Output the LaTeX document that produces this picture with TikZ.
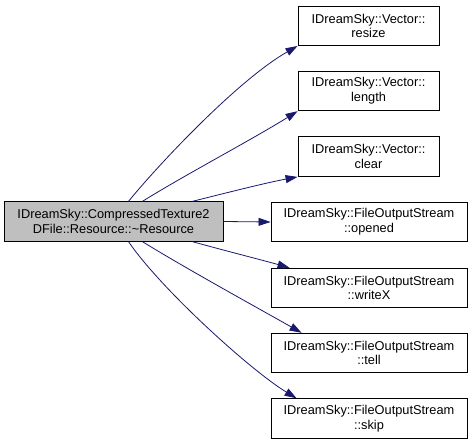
\documentclass[tikz,border=0pt]{standalone}
\usepackage{fontspec}
\setmainfont{Liberation Sans}
\usetikzlibrary{arrows.meta,calc}
\definecolor{edgeblue}{RGB}{25,25,112}
\definecolor{boxgray}{RGB}{191,191,191}
\begin{document}
\begin{tikzpicture}[x=1pt,y=-1pt,
  box/.style={draw=black,line width=0.9pt,fill=white,align=center,inner sep=0pt,
    font=\fontsize{12.8}{14.7}\selectfont,minimum height=39.5pt},
  vbox/.style={box,minimum width=141pt},
  fbox/.style={box,minimum width=196pt},
  edge/.style={draw=edgeblue,line width=0.8pt,-{Triangle[length=12pt,width=8pt]}}]
\useasboundingbox (0,0) rectangle (472,444);
\node[box,fill=boxgray,minimum width=219pt] (main) at (113.5,221.5) {IDreamSky::CompressedTexture2\\DFile::Resource::\textasciitilde Resource};
\node[vbox] (resize) at (368.5,25.8) {IDreamSky::Vector::\\resize};
\node[vbox] (length) at (368.5,91) {IDreamSky::Vector::\\length};
\node[vbox] (clear) at (368.5,156.7) {IDreamSky::Vector::\\clear};
\node[fbox] (opened) at (369,222) {IDreamSky::FileOutputStream\\::opened};
\node[fbox] (writeX) at (369,288) {IDreamSky::FileOutputStream\\::writeX};
\node[fbox] (tell) at (369,353) {IDreamSky::FileOutputStream\\::tell};
\node[fbox] (skip) at (369,418.5) {IDreamSky::FileOutputStream\\::skip};
\draw[edge] ([xshift=125pt]main.north west) .. controls (159,164) and (238,80) .. (resize.south west);
\draw[edge] ([xshift=139pt]main.north west) .. controls (183,176) and (253,139) .. (length.south west);
\draw[edge] ([xshift=189pt]main.north west) .. controls (230,192) and (265,183) .. (clear.south west);
\draw[edge] (main.east) -- (opened.west);
\draw[edge] ([xshift=189pt]main.south west) .. controls (230,252) and (262,260) .. ([xshift=19pt]writeX.north west);
\draw[edge] ([xshift=139pt]main.south west) .. controls (185,268) and (265,312) .. ([xshift=31pt]tell.north west);
\draw[edge] ([xshift=125pt]main.south west) .. controls (160,288) and (250,370) .. ([xshift=26pt]skip.north west);
\end{tikzpicture}
\end{document}
